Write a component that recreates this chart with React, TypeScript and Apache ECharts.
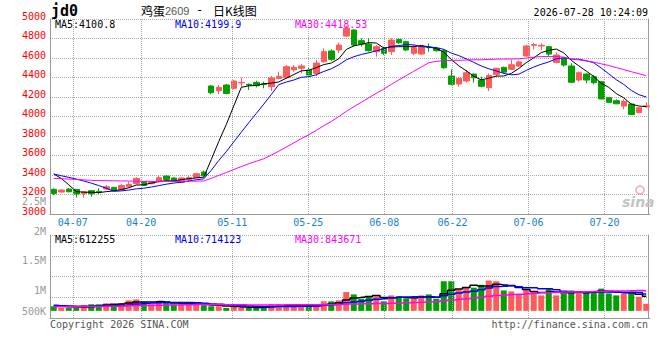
import { useEffect, useRef } from 'react';
import * as echarts from 'echarts';

const dates = [
  '04-01','04-02','04-03','04-07','04-08','04-09','04-10','04-13','04-14','04-15',
  '04-16','04-17','04-20','04-21','04-22','04-23','04-24','04-27','04-28','04-29',
  '04-30','05-06','05-07','05-08','05-11','05-12','05-13','05-14','05-15','05-18',
  '05-19','05-20','05-21','05-22','05-25','05-26','05-27','05-28','05-29','06-01',
  '06-02','06-03','06-04','06-05','06-08','06-09','06-10','06-11','06-12','06-15',
  '06-16','06-17','06-18','06-22','06-23','06-24','06-25','06-26','06-29','06-30',
  '07-01','07-02','07-03','07-06','07-07','07-08','07-09','07-10','07-13','07-14',
  '07-15','07-16','07-17','07-20','07-21','07-22','07-23','07-24','07-27','07-28',
];
const labelDates = ['04-07', '04-20', '05-11', '05-25', '06-08', '06-22', '07-06', '07-20'];

const opens = [
  3253,3225,3256,3252,3211,3239,3232,3256,3273,3252,3280,3311,3331,3311,3331,3389,3369,3324,3355,3375,
  3430,4313,4265,4323,4289,4345,4330,4350,4335,4306,4390,4398,4478,4495,4477,4443,4562,4672,4682,4825,
  4887,4778,4743,4665,4699,4665,4791,4767,4648,4641,4712,4699,4675,4415,4333,4364,4435,4374,4296,4432,
  4504,4484,4518,4620,4730,4723,4716,4555,4596,4518,4374,4435,4408,4357,4193,4162,4107,4128,4039,4100,
];
const closes = [
  3211,3246,3228,3205,3228,3208,3225,3280,3242,3293,3304,3365,3293,3328,3372,3355,3341,3369,3372,3413,
  3393,4244,4299,4237,4364,4350,4323,4316,4328,4395,4412,4511,4504,4518,4426,4548,4665,4586,4733,4904,
  4733,4743,4675,4716,4648,4784,4757,4682,4706,4716,4706,4675,4500,4330,4391,4449,4398,4310,4420,4494,
  4455,4530,4560,4723,4737,4730,4640,4630,4528,4351,4449,4374,4347,4180,4145,4130,4155,4020,4090,4109,
];
const lows = [
  3194,3218,3222,3170,3167,3177,3205,3245,3238,3245,3273,3304,3290,3304,3324,3341,3335,3318,3331,3370,
  3382,4227,4231,4227,4279,4306,4272,4299,4289,4261,4381,4391,4460,4443,4408,4415,4552,4570,4650,4818,
  4720,4716,4665,4614,4630,4630,4743,4672,4630,4630,4665,4665,4490,4320,4306,4347,4347,4300,4261,4408,
  4442,4477,4510,4614,4689,4682,4614,4545,4511,4345,4357,4340,4330,4176,4142,4128,4073,4015,4035,4090,
];
const highs = [
  3263,3252,3266,3256,3235,3242,3263,3297,3278,3311,3331,3375,3335,3335,3400,3400,3375,3376,3389,3418,
  3444,4323,4323,4333,4374,4398,4340,4367,4357,4415,4460,4528,4528,4538,4504,4580,4699,4690,4757,4928,
  4894,4801,4801,4733,4716,4801,4801,4775,4733,4730,4750,4716,4689,4484,4395,4477,4442,4408,4442,4500,
  4511,4586,4575,4733,4757,4750,4718,4655,4606,4545,4460,4442,4425,4357,4193,4176,4176,4135,4100,4145,
];
const volumes = [
  195000,125000,125000,125000,236000,278000,278000,320000,278000,320000,
  445000,486000,361000,278000,403000,361000,278000,278000,278000,278000,
  236000,195000,195000,125000,195000,125000,125000,125000,195000,278000,
  278000,195000,195000,195000,195000,278000,403000,403000,445000,792000,
  695000,514000,612000,612000,403000,653000,612000,514000,514000,653000,
  695000,514000,1250000,1250000,904000,1010000,978900,1100000,1280000,1250000,
  862000,820000,695000,890000,820000,653000,959000,653000,723000,862000,
  792000,792000,820000,940000,735955,653000,723000,792000,593000,300275,
];
// sessions before 04-01 (only feed the moving averages at the left edge)
const histCloses = [
  3330,3350,3320,3360,3340,3310,3290,3300,3330,3350,3370,3360,3380,3350,3340,3360,3330,3350,3380,3350,
  3420,3400,3380,3420,3430,3471,3553,3555,3260,
];
const histVolumes = [
  140000,160000,150000,130000,170000,150000,160000,140000,150000,170000,
  160000,150000,140000,180000,160000,170000,150000,160000,180000,170000,
  200000,230000,210000,240000,220000,250000,230000,210000,240000,
];
const volTicks = [500000, 2500000, 500000];

const RED = '#ff5a5a';
const GREEN = '#00a000';
const GRIDC = '#aaaaaa';
const BORDER = '#999999';
const MONO = "'DejaVu Sans Mono', monospace";
const CJK = "'Noto Sans CJK SC', sans-serif";

function movingAvg(hist: number[], vals: number[], n: number): number[] {
  const all = hist.concat(vals);
  const off = hist.length;
  return vals.map((_, i) => {
    let s = 0;
    for (let k = i + off - n + 1; k <= i + off; k++) s += all[k];
    return s / n;
  });
}
const fmtP = (v: number) => String(parseFloat(v.toFixed(2)));

export default function App() {
  const ref = useRef<HTMLDivElement>(null);
  useEffect(() => {
    const chart = echarts.init(ref.current!, null, { renderer: 'svg' });
    const ma5 = movingAvg(histCloses, closes, 5);
    const ma10 = movingAvg(histCloses, closes, 10);
    const ma30 = movingAvg(histCloses, closes, 30);
    const vma5 = movingAvg(histVolumes, volumes, 5);
    const vma10 = movingAvg(histVolumes, volumes, 10);
    const vma30 = movingAvg(histVolumes, volumes, 30);
    const last = closes.length - 1;
    const labelIdx = labelDates.map((d) => dates.indexOf(d));
    const candles = opens.map((o, i) => [o, closes[i], lows[i], highs[i]]);
    const volData = volumes.map((v, i) => ({
      value: v,
      itemStyle: { color: closes[i] >= opens[i] ? RED : GREEN },
    }));
    const markVert = {
      silent: true,
      symbol: ['none', 'none'],
      label: { show: false },
      lineStyle: { color: GRIDC, type: 'dotted', width: 1 },
      emphasis: { disabled: true },
      data: labelIdx.map((i) => ({ xAxis: i })),
    };
    const txt = (text: string, x: number, y: number, fill: string, extra: any = {}) => ({
      type: 'text',
      x,
      y,
      silent: true,
      z: 100,
      style: {
        text,
        fill,
        fontSize: 10,
        fontFamily: MONO,
        verticalAlign: 'middle',
        align: 'left',
        ...extra,
      },
    });
    const lineS = (data: number[], color: string, xi: number, yi: number, step?: any, w = 1) => ({
      type: 'line',
      xAxisIndex: xi,
      yAxisIndex: yi,
      data,
      step,
      symbol: 'none',
      showSymbol: false,
      silent: true,
      lineStyle: { color, width: w },
      itemStyle: { color },
      z: 5,
    });
    const gridHolder = (xi: number, yi: number, y0: number) => ({
      type: 'line',
      xAxisIndex: xi,
      yAxisIndex: yi,
      data: [[0, y0]],
      symbol: 'none',
      silent: true,
      lineStyle: { width: 0, opacity: 0 },
      markLine: markVert,
      z: 1,
    });
    const hiddenValueX = (gi: number, withLabels: boolean) => ({
      type: 'value',
      gridIndex: gi,
      min: 0,
      max: dates.length - 1,
      position: 'bottom',
      axisLine: { show: false },
      axisTick: { show: false },
      splitLine: { show: false },
      axisLabel: withLabels
        ? {
            show: true,
            customValues: labelIdx,
            formatter: (v: number) => dates[Math.round(v)],
            color: '#1a7fd0',
            fontSize: 10,
            fontFamily: MONO,
            margin: 3,
          }
        : { show: false },
    });

    chart.setOption({
      animation: false,
      backgroundColor: '#ffffff',
      grid: [
        { left: 50, top: 19, width: 600, height: 195 },
        { left: 50, top: 235, width: 600, height: 83 },
        { left: 50, top: 201.5, width: 600, height: 118.8, show: false },
      ],
      xAxis: [
        {
          type: 'category',
          gridIndex: 0,
          data: dates,
          boundaryGap: true,
          position: 'bottom',
          axisLine: { onZero: false, lineStyle: { color: BORDER } },
          axisTick: { show: false },
          splitLine: { show: false },
          axisLabel: { show: false },
        },
        {
          type: 'category',
          gridIndex: 1,
          data: dates,
          boundaryGap: true,
          position: 'bottom',
          axisLine: { onZero: false, lineStyle: { color: BORDER } },
          axisTick: { show: false },
          axisLabel: { show: false },
          splitLine: { show: false },
        },
        { type: 'category', gridIndex: 2, data: dates, show: false },
        hiddenValueX(0, true),
        hiddenValueX(1, false),
      ],
      yAxis: [
        {
          type: 'value',
          gridIndex: 0,
          min: 3000,
          max: 5000,
          interval: 200,
          position: 'left',
          axisLine: { show: true, lineStyle: { color: BORDER } },
          axisTick: { show: false },
          axisLabel: {
            color: '#ff0000',
            fontSize: 10,
            fontFamily: MONO,
            margin: 4,
            verticalAlign: 'bottom',
            lineHeight: 6,
            formatter: (v: number) => String(v),
          },
          splitLine: { show: true, lineStyle: { color: GRIDC, type: 'dotted' } },
        },
        {
          type: 'value',
          gridIndex: 0,
          min: 3000,
          max: 5000,
          position: 'right',
          offset: -2,
          axisLine: { show: true, lineStyle: { color: BORDER } },
          axisTick: { show: false },
          axisLabel: { show: false },
          splitLine: { show: false },
        },
        {
          type: 'value',
          gridIndex: 1,
          min: 0,
          max: 4,
          interval: 1,
          position: 'left',
          axisLine: { show: true, lineStyle: { color: BORDER } },
          axisTick: { show: false },
          axisLabel: { show: false },
          splitLine: { show: true, lineStyle: { color: GRIDC, type: 'dotted' } },
        },
        {
          type: 'value',
          gridIndex: 1,
          min: -300000,
          max: 3200000,
          position: 'right',
          offset: -2,
          axisLine: { show: true, lineStyle: { color: BORDER } },
          axisTick: { show: false },
          axisLabel: { show: false },
          splitLine: { show: false },
        },
        {
          type: 'value',
          gridIndex: 2,
          min: volTicks[0],
          max: volTicks[1],
          interval: volTicks[2],
          position: 'left',
          axisLine: { show: false },
          axisTick: { show: false },
          splitLine: { show: false },
          axisLabel: {
            color: '#999999',
            fontSize: 10,
            fontFamily: MONO,
            margin: 4,
            lineHeight: 8,
            formatter: (v: number) => (v <= volTicks[0] ? '' : v / 1e6 + 'M'),
          },
        },
      ],
      series: [
        gridHolder(3, 0, 3000),
        gridHolder(4, 2, 0),
        {
          type: 'candlestick',
          xAxisIndex: 0,
          yAxisIndex: 0,
          data: candles,
          barWidth: 6,
          silent: true,
          itemStyle: { color: RED, color0: GREEN, borderColor: RED, borderColor0: GREEN, borderWidth: 1 },
          z: 3,
        },
        lineS(ma5, '#000000', 0, 0),
        lineS(ma10, '#0000ff', 0, 0),
        lineS(ma30, '#ff00ff', 0, 0),
        {
          type: 'bar',
          xAxisIndex: 1,
          yAxisIndex: 3,
          data: volData,
          barWidth: 6,
          silent: true,
          z: 3,
        },
        lineS(vma5, '#000000', 1, 3, 'middle', 1.5),
        lineS(vma10, '#0000ff', 1, 3, 'middle', 1.5),
        lineS(vma30, '#ff00ff', 1, 3, 'middle', 1.5),
      ],
      graphic: [
        txt('jd0', 51, 10.5, '#000000', { fontSize: 15, fontWeight: 'bold' }),
        txt('鸡蛋', 141, 10, '#000000', { fontSize: 12, fontFamily: CJK }),
        txt('2609', 165, 10.5, '#555555', { fontSize: 11, fontFamily: "'Liberation Sans', sans-serif" }),
        txt('-', 196, 10, '#000000', { fontSize: 12 }),
        txt('日K线图', 213, 10, '#000000', { fontSize: 12, fontFamily: CJK }),
        txt('2026-07-28 10:24:09', 648, 12, '#000000', { align: 'right' }),
        txt('MA5:' + fmtP(ma5[last]), 55, 24, '#000000'),
        txt('MA10:' + fmtP(ma10[last]), 175, 24, '#0000ff'),
        txt('MA30:' + fmtP(ma30[last]), 295, 24, '#ff00ff'),
        txt('MA5:' + Math.round(vma5[last]), 55, 239.5, '#000000'),
        txt('MA10:' + Math.round(vma10[last]), 175, 239.5, '#0000ff'),
        txt('MA30:' + Math.round(vma30[last]), 295, 239.5, '#ff00ff'),
        txt('500K', 46, 311, '#999999', { align: 'right', lineHeight: 8 }),
        txt('Copyright 2026 SINA.COM', 50, 324, '#555555'),
        txt('http://finance.sina.com.cn', 648, 324, '#555555', { align: 'right' }),
        {
          type: 'circle',
          silent: true,
          z: 1,
          shape: { cx: 640, cy: 190, r: 4 },
          style: { fill: 'none', stroke: '#f2aaaa', lineWidth: 1.5 },
        },
        txt('sina', 622, 202, '#c4c4c4', { fontSize: 14, fontWeight: 'bold', fontStyle: 'italic', fontFamily: "'DejaVu Sans', sans-serif" }),
      ],
    });
    return () => chart.dispose();
  }, []);
  return (
    <div
      ref={ref}
      style={{ position: 'fixed', left: 0, top: 0, width: 660, height: 360, background: '#ffffff' }}
    />
  );
}
